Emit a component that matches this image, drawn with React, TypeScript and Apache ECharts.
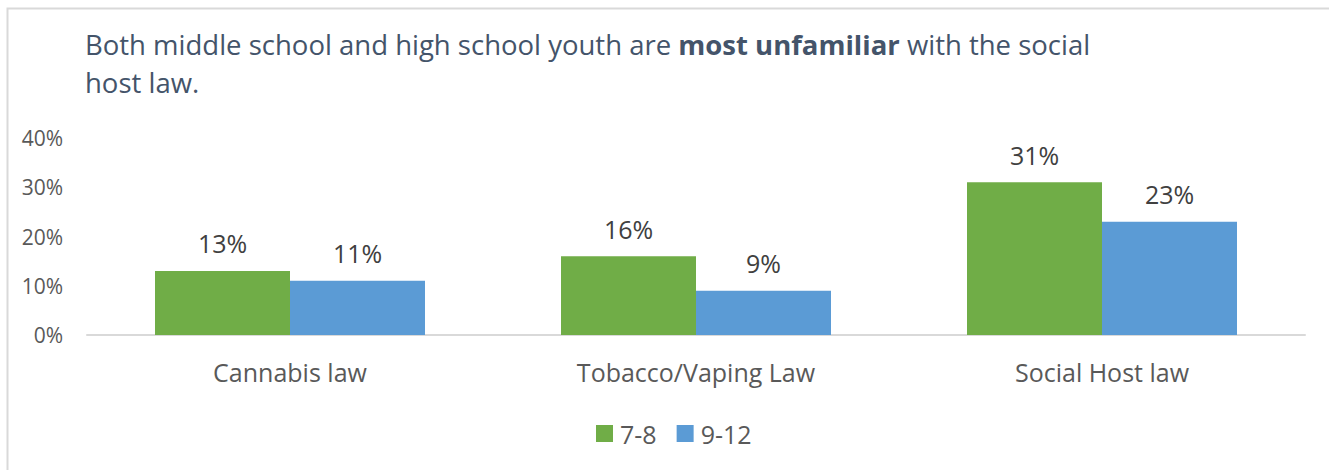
import React, { useEffect, useRef } from "react";
import * as echarts from "echarts";

const categories = ["Cannabis law", "Tobacco/Vaping Law", "Social Host law"];
const seriesNames = ["7-8", "9-12"];
const grade78 = [13, 16, 31];
const grade912 = [11, 9, 23];
const yTicks = [0, 10, 20, 30, 40];

const FONT = "'Open Sans', 'Noto Sans', sans-serif";

export default function App() {
  const ref = useRef<HTMLDivElement>(null);
  useEffect(() => {
    if (!ref.current) return;
    const chart = echarts.init(ref.current, null, { renderer: "svg" });
    const labelStyle = {
      show: true,
      position: "top",
      distance: 15,
      formatter: "{c}%",
      color: "#404040",
      fontFamily: FONT,
      fontSize: 25,
    };
    chart.setOption({
      animation: false,
      backgroundColor: "#ffffff",
      graphic: [
        {
          type: "rect",
          left: 5,
          top: 6,
          shape: { width: 1400, height: 600 },
          style: { fill: "none", stroke: "#d9d9d9", lineWidth: 2 },
          silent: true,
          z: -1,
        },
      ],
      title: {
        left: 80,
        top: 20,
        text:
          "{n|Both middle school and high school youth are }{b|most unfamiliar}{n| with the social}\n{n|host law.}",
        textStyle: {
          fontWeight: "normal",
          rich: {
            n: { fontFamily: FONT, fontSize: 27.5, color: "#44546A", fontWeight: "normal", lineHeight: 38 },
            b: { fontFamily: FONT, fontSize: 27.5, color: "#44546A", fontWeight: "bold", lineHeight: 38 },
          },
        },
      },
      grid: { left: 87, right: 24, top: 138, bottom: 135, containLabel: false },
      xAxis: {
        type: "category",
        data: categories,
        axisLine: { lineStyle: { color: "#d9d9d9", width: 2 } },
        axisTick: { show: false },
        axisLabel: { color: "#595959", fontFamily: FONT, fontSize: 25, margin: 24 },
      },
      yAxis: {
        type: "value",
        min: yTicks[0],
        max: yTicks[yTicks.length - 1],
        interval: 10,
        splitLine: { show: false },
        axisLine: { show: false },
        axisTick: { show: false },
        axisLabel: { color: "#595959", fontFamily: FONT, fontSize: 21, formatter: "{value}%", margin: 24 },
      },
      legend: {
        top: 421,
        left: 596,
        padding: 0,
        icon: "rect",
        itemWidth: 17,
        itemHeight: 17,
        itemGap: 20,
        textStyle: { color: "#595959", fontFamily: FONT, fontSize: 25, lineHeight: 17, padding: [0, 0, 0, 2] },
        data: seriesNames,
      },
      series: [
        {
          name: seriesNames[0],
          type: "bar",
          data: grade78,
          barWidth: 135,
          barGap: "0%",
          itemStyle: { color: "#70AD47" },
          label: labelStyle,
        },
        {
          name: seriesNames[1],
          type: "bar",
          data: grade912,
          barWidth: 135,
          barGap: "0%",
          itemStyle: { color: "#5B9BD5" },
          label: labelStyle,
        },
      ],
    });
    return () => chart.dispose();
  }, []);
  return <div ref={ref} style={{ width: 1329, height: 470, position: "absolute", left: 0, top: 0 }} />;
}
